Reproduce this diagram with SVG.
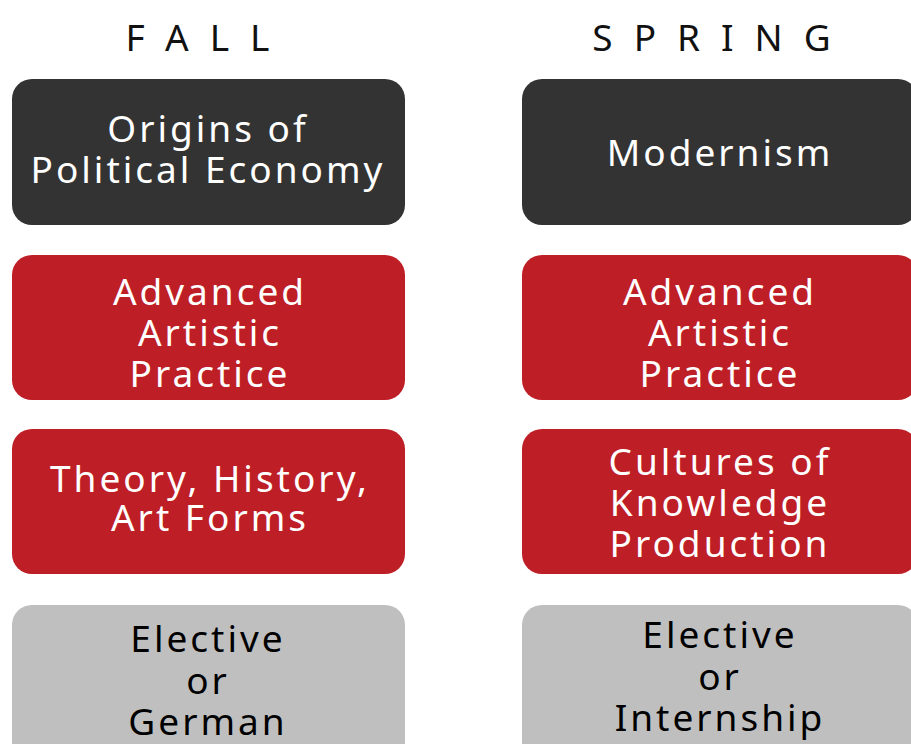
<svg xmlns="http://www.w3.org/2000/svg" width="911" height="744" viewBox="0 0 911 744">
<style>
.box{rx:20;ry:20}
.dark{fill:#333333}
.red{fill:#BE1E25}
.gray{fill:#BFBFBF}
text{font-family:"Noto Sans","Open Sans",sans-serif;font-size:37px;text-anchor:middle;letter-spacing:3px}
.w{fill:#ffffff}
.k{fill:#000000}
.hdr{fill:#111111;letter-spacing:21px}
</style>
<rect width="911" height="744" fill="#ffffff"/>
<g id="headers">
<text class="hdr" x="208" y="51">FALL</text>
<text class="hdr" x="722" y="51">SPRING</text>
</g>
<g id="fall-1"><rect class="box dark" x="12" y="79" width="393" height="146"/>
<text class="w" x="208" y="142">Origins of</text><text class="w" x="208" y="183">Political Economy</text></g>
<g id="fall-2"><rect class="box red" x="12" y="255" width="393" height="145"/>
<text class="w" x="210" y="305">Advanced</text><text class="w" x="210" y="346">Artistic</text><text class="w" x="210" y="387">Practice</text></g>
<g id="fall-3"><rect class="box red" x="12" y="429" width="393" height="145"/>
<text class="w" x="210" y="492">Theory, History,</text><text class="w" x="210" y="531">Art Forms</text></g>
<g id="fall-4"><rect class="box gray" x="12" y="605" width="393" height="160"/>
<text class="k" x="208" y="652">Elective</text><text class="k" x="208" y="694">or</text><text class="k" x="208" y="735">German</text></g>
<g id="spring-1"><rect class="box dark" x="522" y="79" width="396" height="146"/>
<text class="w" x="720" y="166">Modernism</text></g>
<g id="spring-2"><rect class="box red" x="522" y="255" width="396" height="145"/>
<text class="w" x="720" y="305">Advanced</text><text class="w" x="720" y="346">Artistic</text><text class="w" x="720" y="387">Practice</text></g>
<g id="spring-3"><rect class="box red" x="522" y="429" width="396" height="145"/>
<text class="w" x="720" y="475">Cultures of</text><text class="w" x="720" y="516">Knowledge</text><text class="w" x="720" y="557">Production</text></g>
<g id="spring-4"><rect class="box gray" x="522" y="605" width="396" height="160"/>
<text class="k" x="720" y="648">Elective</text><text class="k" x="720" y="690">or</text><text class="k" x="720" y="731">Internship</text></g>
<g id="connectors"></g>
</svg>
